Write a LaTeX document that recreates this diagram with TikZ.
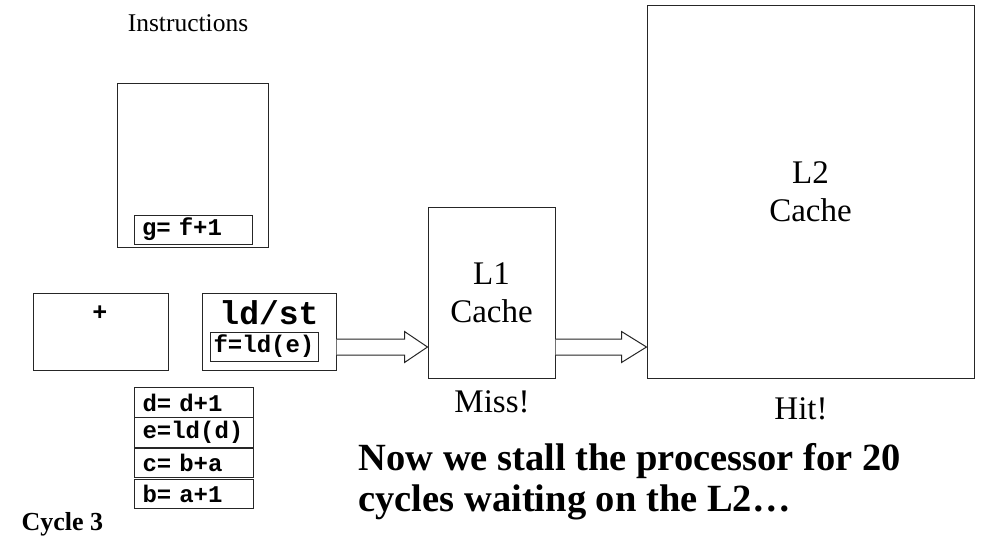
\documentclass[tikz,border=0pt]{standalone}
\usepackage{fontspec}
\setmainfont{Liberation Serif}
\setmonofont{Liberation Mono}
\usetikzlibrary{calc}
\begin{document}
\begin{tikzpicture}[x=1pt,y=-1pt,
  box/.style={draw=black!85, line width=1pt, rectangle, inner sep=0pt, fill=white},
  instr/.style={box, minimum width=118pt, minimum height=29pt, text width=102pt, inner xsep=8pt, align=left,
     font=\fontsize{24}{25}\selectfont\ttfamily\bfseries},
  bigtxt/.style={font=\fontsize{33}{38}\selectfont, align=center},
  fat/.style={draw=black!85, line width=1pt, fill=white, line join=miter}
]
\useasboundingbox (0,0) rectangle (984,539);

% title
\node[anchor=base, font=\fontsize{25.5}{28}\selectfont] (title) at (188,31) {Instructions};

% instruction window
\node[box, minimum width=151pt, minimum height=164pt] (win) at (192.5,165) {};
\node[instr] (g) at (193,229.5) {g= f+1};

% functional units
\node[box, minimum width=135pt, minimum height=77pt] (addu) at (100.5,331.5) {};
\node[font=\fontsize{25}{26}\selectfont\ttfamily\bfseries] (plus) at (100,313) {+};
\node[box, minimum width=134pt, minimum height=77pt] (ldst) at (269,331.5) {};
\node[font=\fontsize{33}{34}\selectfont\ttfamily\bfseries] (ldstl) at (269,313) {ld/st};
\node[box, minimum width=108pt, minimum height=29pt, font=\fontsize{24}{25}\selectfont\ttfamily\bfseries] (f) at (264,346.5) {f=ld(e)};

% caches
\node[box, bigtxt, minimum width=127pt, minimum height=171pt] (L1) at (491.5,292.5) {L1\\Cache};
\node[box, bigtxt, minimum width=327pt, minimum height=373pt] (L2) at (810.5,191.5) {L2\\Cache};
\node[anchor=base, font=\fontsize{33}{36}\selectfont] (miss) at (492,412) {Miss!};
\node[anchor=base, font=\fontsize{33}{36}\selectfont] (hit) at (801,419) {Hit!};

% completed instructions
\node[instr, minimum width=119pt, minimum height=29.5pt] (d) at (193.5,402.5) {d= d+1};
\node[instr, minimum width=119pt, minimum height=29.5pt] (e) at (193.5,432.5) {e=ld(d)};
\node[instr, minimum width=119pt, minimum height=29.5pt] (c) at (193.5,463) {c= b+a};
\node[instr, minimum width=119pt, minimum height=29.5pt] (b) at (193.5,494) {b= a+1};

% arrows
\coordinate (ay) at (0,347);
\draw[fat] let \p1=(ldst.east |- ay), \p2=(L1.west |- ay) in
  (\x1,\y1+8pt) -- (\x2-23pt,\y1+8pt) -- (\x2-23pt,\y1+15.5pt) -- (\x2,\y1)
  -- (\x2-23pt,\y1-15.5pt) -- (\x2-23pt,\y1-8pt) -- (\x1,\y1-8pt);
\draw[fat] let \p1=(L1.east |- ay), \p2=(L2.west |- ay) in
  (\x1,\y1+8pt) -- (\x2-25pt,\y1+8pt) -- (\x2-25pt,\y1+15.5pt) -- (\x2,\y1)
  -- (\x2-25pt,\y1-15.5pt) -- (\x2-25pt,\y1-8pt) -- (\x1,\y1-8pt);

% captions
\node[anchor=base west, font=\fontsize{26}{28}\selectfont\bfseries] (cyc) at (18,530) {Cycle 3};
\node[anchor=base west, font=\fontsize{38.5}{41}\selectfont\bfseries] (now1) at (355,470) {Now we stall the processor for 20};
\node[anchor=base west, font=\fontsize{38.5}{41}\selectfont\bfseries] (now2) at (355,511) {cycles waiting on the L2\ldots};
\end{tikzpicture}
\end{document}
